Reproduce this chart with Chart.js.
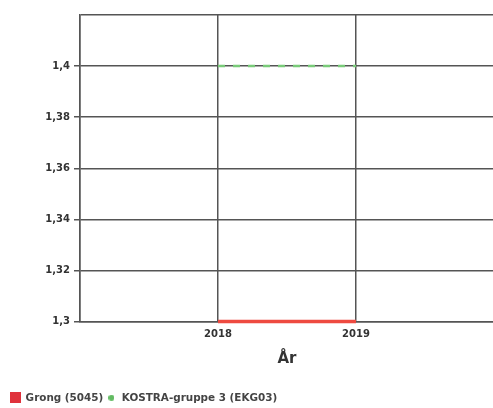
<!DOCTYPE html>
<html><head><meta charset="utf-8">
<script src="https://cdn.jsdelivr.net/npm/chart.js@4"></script>
<style>html,body{margin:0;padding:0;background:#fff;overflow:hidden;width:493px;height:408px}#wrap{width:501px;height:408px}</style>
</head><body><div id="wrap"><canvas id="c"></canvas></div>
<script>
const years = ['2017', '2018', '2019', '2020'];
const shownYears = ['2018', '2019'];
const grongValues = [null, 1.3, 1.3, null];
const kostraValues = [null, 1.4, 1.4, null];
const seriesNames = ['Grong (5045)', 'KOSTRA-gruppe 3 (EKG03)'];
const yTicksShown = [1.3, 1.32, 1.34, 1.36, 1.38, 1.4];
const axisTitle = 'År';

function marker(kind, color, size) {
  const cv = document.createElement('canvas');
  cv.width = size; cv.height = size;
  const g = cv.getContext('2d');
  g.fillStyle = color;
  if (kind === 'rect') { g.fillRect(0, 0, size, size); }
  else { g.beginPath(); g.arc(size / 2, size / 2, size / 2, 0, Math.PI * 2); g.fill(); }
  return cv;
}
const redMark = marker('rect', '#e0323c', 11);
const greenMark = marker('circle', '#62bb62', 6);

const font = { family: 'DejaVu Sans', weight: 'bold', size: 10 };
new Chart(document.getElementById('c'), {
  type: 'line',
  data: {
    labels: years,
    datasets: [
      { label: seriesNames[0], data: grongValues, borderColor: '#ee4a40', backgroundColor: '#e0323c',
        borderWidth: 3.5, pointRadius: 0, clip: false, pointStyle: redMark },
      { label: seriesNames[1], data: kostraValues, borderColor: '#7acb7a', backgroundColor: '#62bb62',
        borderWidth: 2.5, borderDash: [7, 8], pointRadius: 0, clip: false, pointStyle: greenMark }
    ]
  },
  options: {
    responsive: true, maintainAspectRatio: false, animation: false,
    layout: { padding: { top: 15, right: 0, left: 7, bottom: -5 } },
    plugins: {
      legend: { position: 'bottom', align: 'start',
        labels: { usePointStyle: true, font: { family: 'DejaVu Sans', weight: 'bold', size: 10.4 }, color: '#444', padding: 3, boxWidth: 11, boxHeight: 11 } },
      tooltip: { enabled: false }
    },
    scales: {
      x: {
        grid: { color: '#555', lineWidth: 1.5, drawTicks: false },
        border: { color: '#555', width: 1.5 },
        ticks: { font: font, color: '#333', padding: 7, autoSkip: false, maxRotation: 0,
          callback: function (v) { const l = this.getLabelForValue(v); return shownYears.includes(l) ? l : ''; } },
        title: { display: true, text: axisTitle, font: { family: 'DejaVu Sans', weight: 'bold', size: 15 }, color: '#333', padding: { top: 3, bottom: 21 } }
      },
      y: {
        min: 1.3, max: 1.42,
        afterFit: (s) => { s.width = 73; },
        grid: { color: '#555', lineWidth: 1.5, tickLength: 6,
          tickColor: (ctx) => (ctx.tick && Math.round(ctx.tick.value * 100) / 100 > 1.41) ? 'rgba(0,0,0,0)' : '#555' },
        border: { color: '#555', width: 1.5 },
        ticks: { stepSize: 0.02, font: font, color: '#333', padding: 4,
          callback: function (v) { const r = Math.round(v * 100) / 100; return yTicksShown.includes(r) ? String(r).replace('.', ',') : ''; } }
      }
    }
  }
});
</script></body></html>
